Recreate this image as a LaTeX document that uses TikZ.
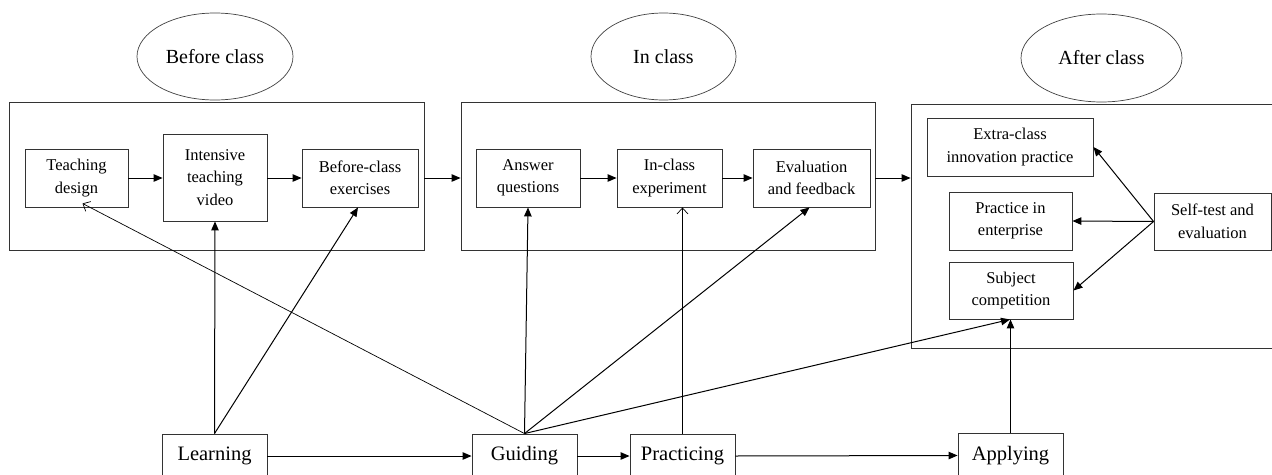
\documentclass[tikz,border=0pt]{standalone}
\usepackage{fontspec}
\setmainfont{Liberation Serif}
\usetikzlibrary{arrows.meta,shapes.geometric}
\begin{document}
\begin{tikzpicture}[x=1pt,y=-1pt,
  box/.style={draw=black!80,line width=0.9pt,rectangle,inner sep=0pt,align=center,
    font=\fontsize{16.5}{22.5}\selectfont},
  outer/.style={draw=black!80,line width=0.9pt,rectangle,inner sep=0pt},
  stage/.style={draw=black!80,line width=0.9pt,rectangle,inner sep=0pt,
    font=\fontsize{20.5}{24}\selectfont},
  phase/.style={draw=black!75,line width=0.7pt,ellipse,inner sep=0pt,
    font=\fontsize{20}{24}\selectfont},
  arr/.style={line width=1pt,-{Triangle[length=9pt,width=7.5pt]}},
  thin/.style={line width=0.7pt,-{Straight Barb[length=6pt,width=11pt]}}
]
\useasboundingbox (0,0) rectangle (1272,474);
% phases
\node[phase,minimum width=156pt,minimum height=87pt] (e1) at (215,56.5) {\raisebox{-4pt}{Before class}};
\node[phase,minimum width=145pt,minimum height=87pt] (e2) at (663.5,56.5) {\raisebox{-4pt}{In class}};
\node[phase,minimum width=161pt,minimum height=88pt] (e3) at (1101.5,58) {\raisebox{-4pt}{After class}};
% outer boxes
\node[outer,minimum width=415pt,minimum height=148pt] (b1) at (216.5,176) {};
\node[outer,minimum width=414pt,minimum height=148pt] (b2) at (668,176) {};
\node[outer,minimum width=379pt,minimum height=244pt] (b3) at (1100.5,226) {};
% before class
\node[box,minimum width=103pt,minimum height=58pt] (td) at (76.5,178) {Teaching\\design};
\node[box,minimum width=104pt,minimum height=87pt] (vid) at (215,177.5) {Intensive\\teaching\\video};
\node[box,minimum width=116pt,minimum height=58pt] (ex) at (360,178) {Before-class\\exercises};
% in class
\node[box,minimum width=104pt,minimum height=58pt] (aq) at (528,178) {Answer\\questions};
\node[box,minimum width=105pt,minimum height=58pt] (ice) at (669.5,178) {In-class\\experiment};
\node[box,minimum width=117pt,minimum height=58pt] (ef) at (811.5,178) {Evaluation\\and feedback};
% after class
\node[box,minimum width=166pt,minimum height=58pt] (xc) at (1010,147) {Extra-class\\innovation practice};
\node[box,minimum width=123pt,minimum height=58pt] (pe) at (1010.5,221) {Practice in\\enterprise};
\node[box,minimum width=124pt,minimum height=57pt] (sc) at (1011,290.5) {Subject\\competition};
\node[box,minimum width=117pt,minimum height=57pt] (st) at (1212.5,221.5) {Self-test and\\evaluation};
% stages
\node[stage,minimum width=105pt,minimum height=44pt] (learn) at (214.5,456) {\raisebox{-2pt}{Learning}};
\node[stage,minimum width=105pt,minimum height=44pt] (guide) at (524.5,456) {\raisebox{-2pt}{Guiding}};
\node[stage,minimum width=105pt,minimum height=44pt] (prac) at (682.5,456) {\raisebox{-2pt}{Practicing}};
\node[stage,minimum width=105pt,minimum height=45pt] (apply) at (1010.5,455.5) {\raisebox{-2pt}{Applying}};
% horizontal flows
\draw[arr] (td.east) -- (vid.west |- td.east);
\draw[arr] (vid.east |- ex.west) -- (ex.west);
\draw[arr] (aq.east) -- (ice.west);
\draw[arr] (ice.east) -- (ef.west);
\draw[arr] (b1.east |- td.east) -- (b2.west |- td.east);
\draw[arr] (b2.east |- td.east) -- (b3.west |- td.east);
\draw[arr] (learn.east) -- (guide.west);
\draw[arr] (guide.east) -- (prac.west);
\draw[arr] (prac.east) -- (apply.west);
% learning
\draw[arr] (learn.north) -- (vid.south);
\draw[arr] (learn.north) -- ([xshift=-2pt]ex.south);
% guiding
\draw[thin] (guide.north) -- ([xshift=6pt,yshift=4pt]td.south);
\draw[arr] (guide.north) -- (aq.south);
\draw[arr] (guide.north) -- ([xshift=-2pt]ef.south);
\draw[arr] (guide.north) -- ([xshift=-1pt]sc.south);
% practicing
\draw[thin] (prac.north) -- (prac.north |- ice.south);
% applying
\draw[arr] (apply.north) -- (apply.north |- sc.south);
% self-test
\draw[arr] (st.west) -- (xc.east);
\draw[arr] (st.west) -- (pe.east);
\draw[arr] (st.west) -- (sc.east);
\end{tikzpicture}
\end{document}
